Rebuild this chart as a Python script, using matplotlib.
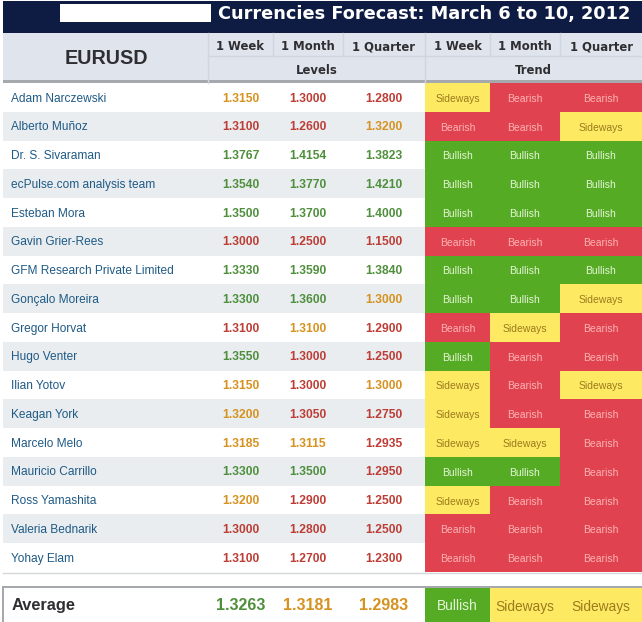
import matplotlib
matplotlib.use("Agg")
import matplotlib.pyplot as plt
from matplotlib.patches import Rectangle

plt.rcParams['font.family'] = ['Liberation Sans', 'DejaVu Sans']

title = "Currencies Forecast: March 6 to 10, 2012"
pair = "EURUSD"
horizons = ["1 Week", "1 Month", "1 Quarter"]

names = ["Adam Narczewski", "Alberto Muñoz", "Dr. S. Sivaraman", "ecPulse.com analysis team",
         "Esteban Mora", "Gavin Grier-Rees", "GFM Research Private Limited", "Gonçalo Moreira",
         "Gregor Horvat", "Hugo Venter", "Ilian Yotov", "Keagan York", "Marcelo Melo",
         "Mauricio Carrillo", "Ross Yamashita", "Valeria Bednarik", "Yohay Elam"]
week = ["1.3150", "1.3100", "1.3767", "1.3540", "1.3500", "1.3000", "1.3330", "1.3300", "1.3100",
        "1.3550", "1.3150", "1.3200", "1.3185", "1.3300", "1.3200", "1.3000", "1.3100"]
month = ["1.3000", "1.2600", "1.4154", "1.3770", "1.3700", "1.2500", "1.3590", "1.3600", "1.3100",
         "1.3000", "1.3000", "1.3050", "1.3115", "1.3500", "1.2900", "1.2800", "1.2700"]
quarter = ["1.2800", "1.3200", "1.3823", "1.4210", "1.4000", "1.1500", "1.3840", "1.3000", "1.2900",
           "1.2500", "1.3000", "1.2750", "1.2935", "1.2950", "1.2500", "1.2500", "1.2300"]
trend_week = ["Sideways", "Bearish", "Bullish", "Bullish", "Bullish", "Bearish", "Bullish", "Bullish", "Bearish",
              "Bullish", "Sideways", "Sideways", "Sideways", "Bullish", "Sideways", "Bearish", "Bearish"]
trend_month = ["Bearish", "Bearish", "Bullish", "Bullish", "Bullish", "Bearish", "Bullish", "Bullish", "Sideways",
               "Bearish", "Bearish", "Bearish", "Sideways", "Bullish", "Bearish", "Bearish", "Bearish"]
trend_quarter = ["Bearish", "Sideways", "Bullish", "Bullish", "Bullish", "Bearish", "Bullish", "Sideways", "Bearish",
                 "Bearish", "Sideways", "Bearish", "Bearish", "Bearish", "Bearish", "Bearish", "Bearish"]
avg_levels = ["1.3263", "1.3181", "1.2983"]
avg_trends = ["Bullish", "Sideways", "Sideways"]

# column edges and row layout, in pixels
col_x = [208, 273, 343, 425, 490, 560, 642]
row_top = 83
row_h = 28.76

level_col = {"Bullish": "#4f8f3c", "Bearish": "#bd3d35", "Sideways": "#d6921f"}
cell_bg = {"Bullish": "#55ab24", "Bearish": "#e04250", "Sideways": "#feea62"}
cell_fg = {"Bullish": "#e6f5d8", "Bearish": "#fbb4b4", "Sideways": "#9a7a1e"}
head_bg = "#e0e4ec"
head_line = "#d0d5de"
head_text = "#2f2f33"

fig = plt.figure(figsize=(6.42, 6.22), dpi=100)
ax = fig.add_axes([0, 0, 1, 1])
ax.set_xlim(0, 642)
ax.set_ylim(622, 0)
ax.axis("off")


def box(x0, y0, x1, y1, color):
    ax.add_patch(Rectangle((x0, y0), x1 - x0, y1 - y0, fc=color, ec="none"))


def label(x, y, s, size, color, weight="normal", ha="center", family=None):
    ax.text(x, y, s, fontsize=size, color=color, fontweight=weight, ha=ha, va="center_baseline", family=family)


# banner
box(3, 1, 642, 33, "#0e1b42")
box(60, 4, 211, 22, "white")
label(218, 12, title, 12.75, "white", "bold", "left", "DejaVu Sans")

# header
box(3, 33, 642, 80, head_bg)
box(3, 80, 642, 83, "#a5a8ac")
label(106, 57, pair, 14.2, head_text, "bold")
ax.plot([208, 208], [33, 83], color=head_line, lw=1)
ax.plot([425, 425], [33, 83], color=head_line, lw=1)
ax.plot([208, 642], [56, 56], color=head_line, lw=1)
for i in range(6):
    if i not in (2, 5):
        ax.plot([col_x[i + 1]] * 2, [33, 56], color=head_line, lw=1)
    label((col_x[i] + col_x[i + 1]) / 2, 45, horizons[i % 3], 8.4, head_text, "bold", family="DejaVu Sans")
label((col_x[0] + col_x[3]) / 2, 69.5, "Levels", 8.4, head_text, "bold", family="DejaVu Sans")
label((col_x[3] + col_x[6]) / 2, 69.5, "Trend", 8.4, head_text, "bold", family="DejaVu Sans")

# forecaster rows
levels = [week, month, quarter]
trends = [trend_week, trend_month, trend_quarter]
for r, name in enumerate(names):
    y0 = row_top + r * row_h
    y1 = y0 + row_h
    yc = (y0 + y1) / 2 - 0.3
    box(3, y0, col_x[3], y1, "white" if r % 2 == 0 else "#e9edf0")
    label(11, yc, name, 8.6, "#1f5a85", ha="left")
    for c in range(3):
        t = trends[c][r]
        label((col_x[c] + col_x[c + 1]) / 2, yc, levels[c][r], 8.7, level_col[t], "bold")
        box(col_x[c + 3], y0, col_x[c + 4], y1, cell_bg[t])
        label((col_x[c + 3] + col_x[c + 4]) / 2, yc + 0.8, t, 7.5, cell_fg[t])
ax.plot([3, 642], [572.5, 572.5], color="#d5d7da", lw=1)

# average row
box(3, 586, 642, 588, "#a5a8ac")
box(2, 586, 4, 622, "#a5a8ac")
label(12, 604, "Average", 11.8, head_text, "bold", "left")
for c in range(3):
    label((col_x[c] + col_x[c + 1]) / 2, 604, avg_levels[c], 11.5, level_col[avg_trends[c]], "bold")
    box(col_x[c + 3], 588, col_x[c + 4], 622, cell_bg[avg_trends[c]])
    label((col_x[c + 3] + col_x[c + 4]) / 2, 605, avg_trends[c], 9.9, cell_fg[avg_trends[c]])

fig.savefig("out.png", dpi=100)
